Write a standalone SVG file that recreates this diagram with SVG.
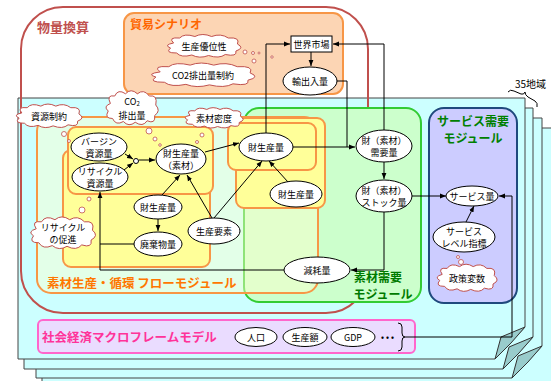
<svg xmlns="http://www.w3.org/2000/svg" xmlns:xlink="http://www.w3.org/1999/xlink" width="551" height="381" viewBox="0 0 551 381">
<style>
text{font-family:"Noto Sans CJK JP","Liberation Sans",sans-serif;font-size:9px;fill:#000;}
.c{text-anchor:middle;dominant-baseline:central;}
.node{fill:#fff;stroke:#000;stroke-width:1;}
.page{fill:#ccffff;stroke:#444;stroke-width:1;}
.fold{fill:#99cccc;stroke:#333;stroke-width:1;}
.ybox{fill:#ffff99;stroke:#f79646;stroke-width:2;}
.bub{fill:#fff;stroke:#c0504d;stroke-width:0.8;}
.ln{fill:none;stroke:#000;stroke-width:1;}
.ttl{font-weight:bold;}
.mt{font-weight:bold;font-size:12px;text-anchor:middle;}
</style>
<defs>
<marker id="ah" viewBox="0 0 8 8" refX="8" refY="4" markerWidth="6" markerHeight="6" orient="auto" markerUnits="userSpaceOnUse"><path d="M0,0.8 L8,4 L0,7.2 Z" fill="#000"/></marker>
<path id="cloud" vector-effect="non-scaling-stroke" fill="#fff" stroke="#c0504d" stroke-width="1" d="M-40,-6 Q-48,-18 -32,-16 Q-26,-26 -12,-19 Q-2,-27 10,-19 Q22,-26 32,-16 Q48,-18 44,-4 Q54,4 42,10 Q44,22 28,17 Q20,26 6,19 Q-6,26 -16,18 Q-30,24 -36,14 Q-52,14 -44,4 Q-54,-2 -40,-6 Z"/>
</defs>
<rect width="551" height="381" fill="#fff"/>

<g id="pages">
<path class="page" d="M42,128 H560 V390 H42 Z"/>
<path class="page" d="M36,118 H542 V346 L512,378 H36 Z"/>
<path class="fold" d="M512,378 L518,356 L542,346 L528,362 Z"/>
<path class="page" d="M24,108 H533 V337 L503,369 H24 Z"/>
<path class="fold" d="M503,369 L509,347 L533,337 L519,353 Z"/>
<path class="page" d="M18,98 H525 V327 L495,359 H18 Z"/>
<path class="fold" d="M495,359 L501,337 L525,327 L511,343 Z"/>
<path class="ln" d="M508,92 q2,-3 6,-1 l7,3 q3,1 4,-2 q0,3 3,5 l7,4 q3,2 2,6"/>
<text x="515" y="88" style="font-size:10px">35地域</text>
</g>

<g id="trade-scenario">
<rect x="124" y="13" width="219" height="81" rx="10" fill="#fcd5b4" stroke="#f79646" stroke-width="2"/>
<text x="130" y="29" class="ttl" style="font-size:12px;fill:#ff6600">貿易シナリオ</text>
</g>

<g id="physical-conversion">
<rect x="21" y="7" width="347" height="306" rx="42" fill="none" stroke="#c0504d" stroke-width="2"/>
<text x="37" y="32" class="ttl" style="font-size:13px;fill:#c0504d">物量換算</text>
</g>

<g id="demand-module">
<rect x="244" y="108" width="177" height="194" rx="15" fill="#ccffcc" stroke="#33cc33" stroke-width="2"/>
</g>

<g id="flow-module">
<rect x="37" y="117" width="281" height="176" rx="14" fill="#ffffcc" fill-opacity="0.45" stroke="#f79646" stroke-width="2"/>
<rect class="ybox" x="63" y="150" width="147" height="117" rx="8"/>
<rect class="ybox" x="68" y="127" width="145" height="67" rx="8"/>
<rect class="ybox" x="236" y="118" width="89" height="90" rx="8"/>
<rect class="ybox" x="228" y="123" width="88" height="47" rx="8"/>
<text x="47" y="288" class="ttl" style="font-size:12.5px;fill:#ff7700">素材生産・循環 フローモジュール</text>
</g>

<g id="demand-title">
<text x="378" y="282" class="mt" style="fill:#007a00">素材需要</text>
<text x="383" y="299" class="mt" style="fill:#007a00">モジュール</text>
</g>

<g id="service-module">
<rect x="429" y="108" width="88" height="195" rx="15" fill="#ccccff" stroke="#1f497d" stroke-width="2"/>
<text x="473" y="126" class="mt" style="fill:#008000">サービス需要</text>
<text x="473" y="143" class="mt" style="fill:#008000">モジュール</text>
</g>

<g id="macro-model">
<rect x="38" y="320" width="377" height="33" rx="5" fill="#eadcff" stroke="#ff66cc" stroke-width="2"/>
<text x="42" y="342" class="ttl" style="font-size:12.5px;fill:#ff3399">社会経済マクロフレームモデル</text>
<text x="381" y="340" class="ttl" style="font-size:8px;letter-spacing:2px">•••</text>
<path class="ln" d="M398,323 q4,0 4,4 v6 q0,4 3,4 q-3,0 -3,4 v6 q0,4 -4,4"/>
</g>

<g id="connectors">
<path class="ln" marker-end="url(#ah)" d="M266,133 V44 H290"/>
<path class="ln" marker-end="url(#ah)" d="M311,52 V66"/>
<path class="ln" d="M337,81 H347 V147"/>
<path class="ln" marker-end="url(#ah)" d="M293,147 H355"/>
<path class="ln" marker-end="url(#ah)" d="M384,130 V44 H333"/>
<path class="ln" marker-end="url(#ah)" d="M384,162 V179"/>
<path class="ln" marker-end="url(#ah)" d="M384,212 V270 H351"/>
<path class="ln" marker-end="url(#ah)" d="M284,270 H100 V192"/>
<path class="ln" d="M134,244 H100"/>
<path class="ln" marker-end="url(#ah)" d="M412,196 H446"/>
<path class="ln" marker-end="url(#ah)" d="M405,337 H512 V196 H499"/>
<path class="ln" marker-end="url(#ah)" d="M466,222 L474,206"/>
<path class="ln" marker-end="url(#ah)" d="M125,154 L133,159"/>
<path class="ln" marker-end="url(#ah)" d="M124,170 L133,163"/>
<path class="ln" marker-end="url(#ah)" d="M139,160 H155"/>
<path class="ln" marker-end="url(#ah)" d="M162,195 L180,175"/>
<path class="ln" marker-end="url(#ah)" d="M158,219 V231"/>
<path class="ln" marker-end="url(#ah)" d="M212,218 L187,175"/>
<path class="ln" marker-end="url(#ah)" d="M214,218 L262,161"/>
<path class="ln" marker-end="url(#ah)" d="M205,152 L239,143"/>
<path class="ln" marker-end="url(#ah)" d="M288,182 L269,161"/>
</g>

<g id="bubbles">
<circle class="bub" cx="245" cy="52" r="2"/>
<circle class="bub" cx="253" cy="53" r="1.5"/>
<circle class="bub" cx="259" cy="53" r="1"/>
<circle class="bub" cx="254" cy="61" r="2"/>
<circle class="bub" cx="272" cy="57" r="1.2"/>
<circle class="bub" cx="64" cy="134" r="2.5"/>
<circle class="bub" cx="69" cy="141" r="1.5"/>
<circle class="bub" cx="149" cy="131" r="3"/>
<circle class="bub" cx="155" cy="139" r="2"/>
<circle class="bub" cx="160" cy="145" r="1.3"/>
<circle class="bub" cx="202" cy="135" r="2"/>
<circle class="bub" cx="197" cy="142" r="1.5"/>
<circle class="bub" cx="89" cy="199" r="2"/>
<circle class="bub" cx="82" cy="210" r="3"/>
<circle class="bub" cx="458" cy="257" r="1.5"/>
<circle class="bub" cx="461" cy="262" r="2.5"/>
</g>

<g id="cloud-advantage"><use xlink:href="#cloud" transform="translate(204,46) scale(0.76,0.5)"/><text class="c" x="204" y="46">生産優位性</text></g>
<g id="cloud-co2-limit"><use xlink:href="#cloud" transform="translate(203,75) scale(1.07,0.52)"/><text class="c" x="203" y="75">CO2排出量制約</text></g>
<g id="cloud-resource"><use xlink:href="#cloud" transform="translate(49,116) scale(0.68,0.52)"/><text class="c" x="49" y="116">資源制約</text></g>
<g id="cloud-co2"><use xlink:href="#cloud" transform="translate(132,108) scale(0.54,0.75)"/><text class="c" x="132" y="101">CO<tspan style="font-size:6px" dy="2">2</tspan></text><text class="c" x="132" y="115">排出量</text></g>
<g id="cloud-density"><use xlink:href="#cloud" transform="translate(214,118) scale(0.6,0.45)"/><text class="c" x="214" y="118">素材密度</text></g>
<g id="cloud-recycle"><use xlink:href="#cloud" transform="translate(63,233) scale(0.67,0.7)"/><text class="c" x="63" y="227">リサイクル</text><text class="c" x="63" y="239">の促進</text></g>
<g id="cloud-policy"><use xlink:href="#cloud" transform="translate(467,278) scale(0.62,0.6)"/><text class="c" x="467" y="278">政策変数</text></g>

<g id="world-market"><rect class="node" x="291" y="36" width="41" height="16"/><text class="c" x="311.5" y="44">世界市場</text></g>
<g id="trade-volume"><ellipse class="node" cx="310" cy="81" rx="27" ry="14"/><text class="c" x="310" y="81">輸出入量</text></g>
<g id="virgin"><ellipse class="node" cx="99" cy="147" rx="28" ry="14"/><text class="c" x="99" y="141">バージン</text><text class="c" x="99" y="153">資源量</text></g>
<g id="recycled"><ellipse class="node" cx="100" cy="177" rx="28" ry="14"/><text class="c" x="100" y="171">リサイクル</text><text class="c" x="100" y="183">資源量</text></g>
<g id="junction"><circle class="node" cx="136" cy="161" r="2.5"/></g>
<g id="prod-material"><ellipse class="node" cx="181" cy="159" rx="25" ry="15"/><text class="c" x="181" y="153">財生産量</text><text class="c" x="181" y="165">（素材）</text></g>
<g id="prod-left"><ellipse class="node" cx="158" cy="207" rx="24" ry="12"/><text class="c" x="158" y="207">財生産量</text></g>
<g id="waste"><ellipse class="node" cx="158" cy="244" rx="24" ry="12"/><text class="c" x="158" y="244">廃棄物量</text></g>
<g id="factors"><ellipse class="node" cx="214" cy="231" rx="26" ry="13"/><text class="c" x="214" y="231">生産要素</text></g>
<g id="prod-right"><ellipse class="node" cx="266" cy="147" rx="27" ry="14"/><text class="c" x="266" y="147">財生産量</text></g>
<g id="prod-right2"><ellipse class="node" cx="296" cy="194" rx="26" ry="13"/><text class="c" x="296" y="194">財生産量</text></g>
<g id="demand"><ellipse class="node" cx="384" cy="146" rx="28" ry="16"/><text class="c" x="384" y="140">財（素材）</text><text class="c" x="384" y="152">需要量</text></g>
<g id="stock"><ellipse class="node" cx="384" cy="196" rx="28" ry="16"/><text class="c" x="384" y="190">財（素材）</text><text class="c" x="384" y="202">ストック量</text></g>
<g id="depreciation"><ellipse class="node" cx="317" cy="270" rx="33" ry="13"/><text class="c" x="317" y="270">減耗量</text></g>
<g id="service"><ellipse class="node" cx="472" cy="196" rx="26" ry="10"/><text class="c" x="472" y="196">サービス量</text></g>
<g id="service-level"><ellipse class="node" cx="464" cy="237" rx="31" ry="15"/><text class="c" x="464" y="231">サービス</text><text class="c" x="464" y="243">レベル指標</text></g>
<g id="population"><ellipse class="node" cx="256" cy="337" rx="21" ry="9.5"/><text class="c" x="256" y="337">人口</text></g>
<g id="output"><ellipse class="node" cx="305" cy="337" rx="22" ry="9.5"/><text class="c" x="305" y="337">生産額</text></g>
<g id="gdp"><ellipse class="node" cx="353" cy="337" rx="22" ry="9.5"/><text class="c" x="353" y="337">GDP</text></g>
</svg>
